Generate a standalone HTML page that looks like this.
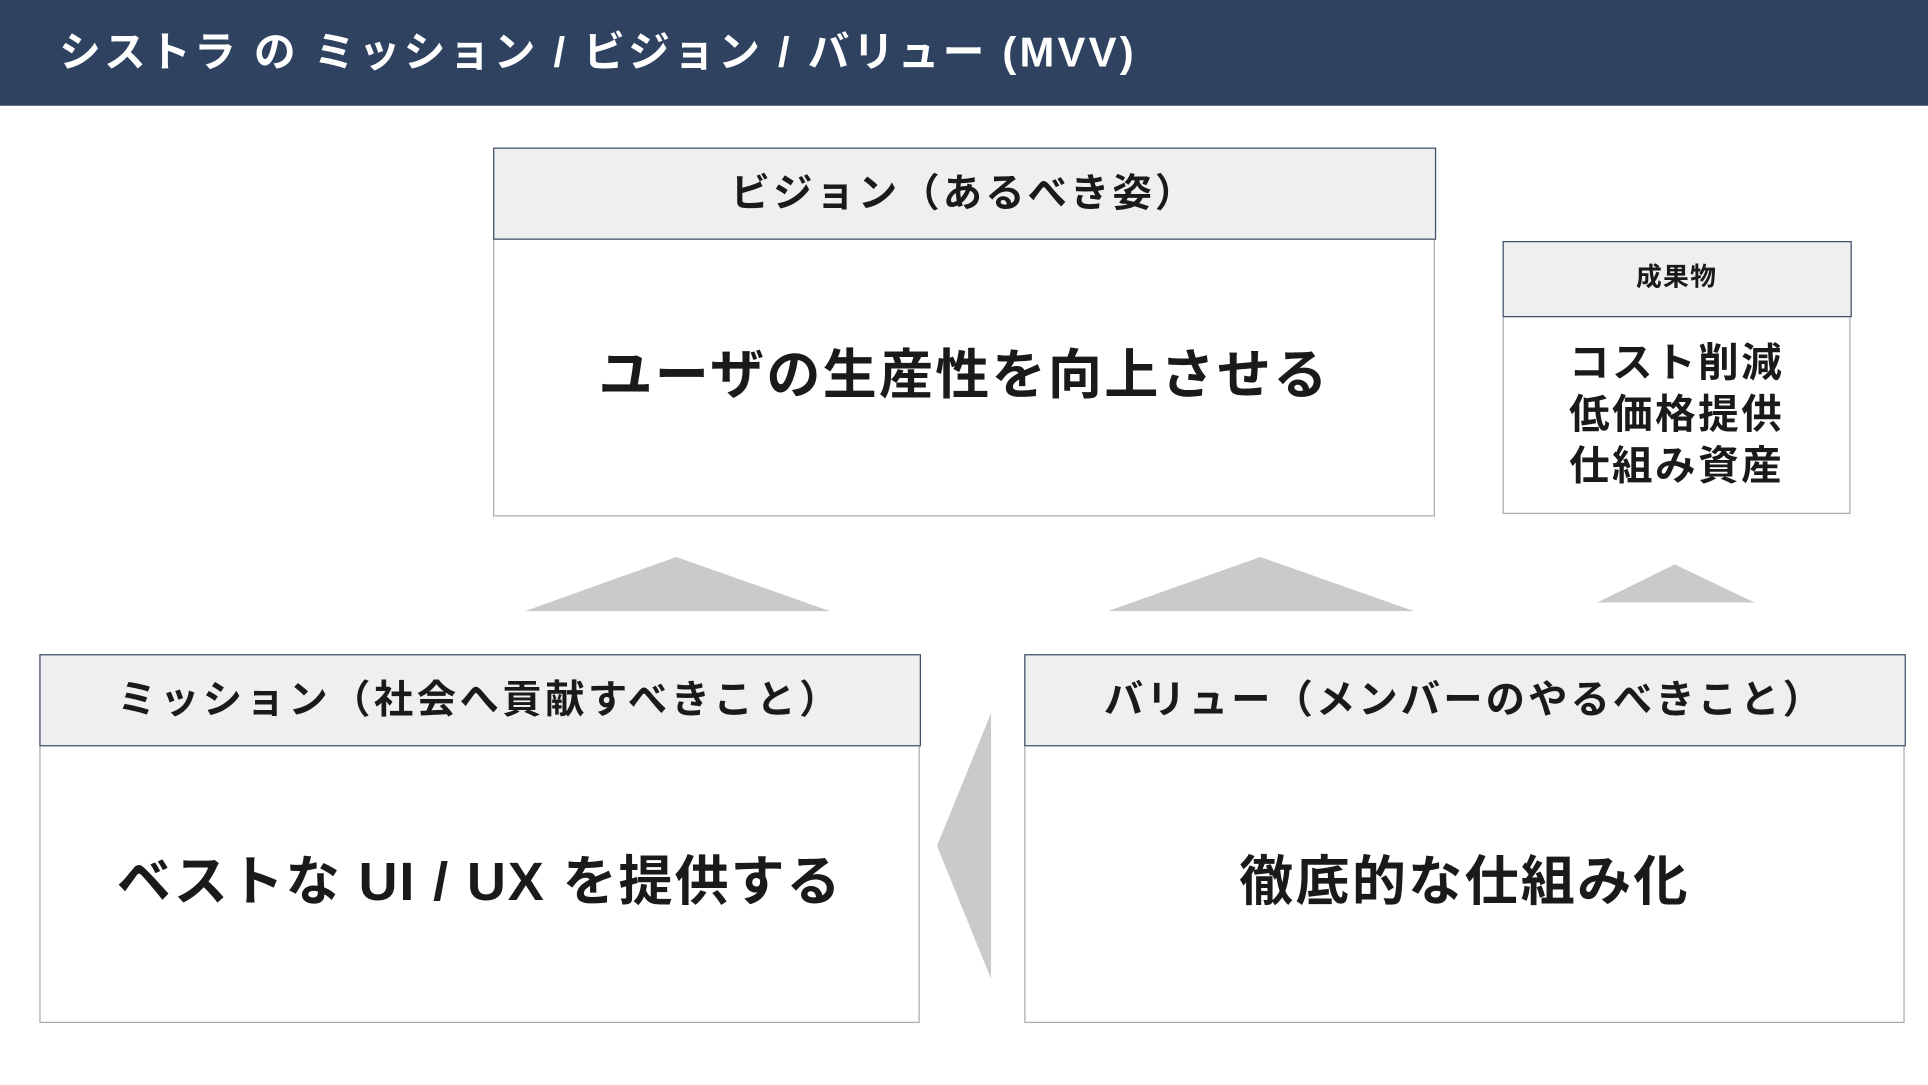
<!DOCTYPE html>
<html><head><meta charset="utf-8"><style>
html,body{margin:0;padding:0;background:#fff;overflow:hidden;width:1928px;height:1084px}
#s{position:absolute;left:0;top:0;width:1568px;height:882px;transform:scale(1.2296);transform-origin:0 0;font-family:"Liberation Sans","Noto Sans CJK JP",sans-serif;font-weight:bold;color:#1a1a1a}
.hdr{position:absolute;left:0;top:0;width:1568px;height:86px;background:#2f4361;color:#fff;font-size:34px;line-height:86px;padding-left:48px;box-sizing:border-box;letter-spacing:2.6px}
.box{position:absolute;border:1.5px solid #a9abae;box-sizing:border-box;background:#fff}
.bh{position:absolute;left:-1.5px;right:-1.5px;top:-1.5px;background:#efefef;border:1.5px solid #3d4c68;box-sizing:border-box;text-align:center;letter-spacing:2.5px}
.bt{position:absolute;left:0;right:0;text-align:center;letter-spacing:1.8px}
svg{position:absolute;left:0;top:0}
</style></head><body><div id="s">
<div class="hdr">シストラ の ミッション / ビジョン / バリュー (MVV)</div>
<div class="box" style="left:401px;top:120px;width:766px;height:300px">
 <div class="bh" style="height:75px;font-size:32px;line-height:72px">ビジョン（あるべき姿）</div>
 <div class="bt" style="top:155px;font-size:44px;line-height:60px">ユーザの生産性を向上させる</div>
</div>
<div class="box" style="left:1222px;top:196px;width:283px;height:222px">
 <div class="bh" style="height:62px;font-size:21px;line-height:58px;letter-spacing:1px">成果物</div>
 <div class="bt" style="top:77px;font-size:33px;line-height:42px;letter-spacing:2px">コスト削減<br>低価格提供<br>仕組み資産</div>
</div>
<div class="box" style="left:32px;top:532px;width:716px;height:300px">
 <div class="bh" style="height:75px;font-size:32px;line-height:72px;letter-spacing:2.8px">ミッション（社会へ貢献すべきこと）</div>
 <div class="bt" style="top:155px;font-size:44px;line-height:60px;letter-spacing:1.5px">ベストな UI / UX を提供する</div>
</div>
<div class="box" style="left:833px;top:532px;width:716px;height:300px">
 <div class="bh" style="height:75px;font-size:32px;line-height:72px">バリュー（メンバーのやるべきこと）</div>
 <div class="bt" style="top:155px;font-size:44px;line-height:60px">徹底的な仕組み化</div>
</div>
<svg width="1568" height="882">
 <polygon points="427,497 550,453 675,497" fill="#c9cacc"/>
 <polygon points="901,497 1025,453 1150,497" fill="#c9cacc"/>
 <polygon points="1299,490 1362,459 1427,490" fill="#c9cacc"/>
 <polygon points="806,580 762,688 806,796" fill="#c9cacc"/>
</svg>
</div></body></html>
